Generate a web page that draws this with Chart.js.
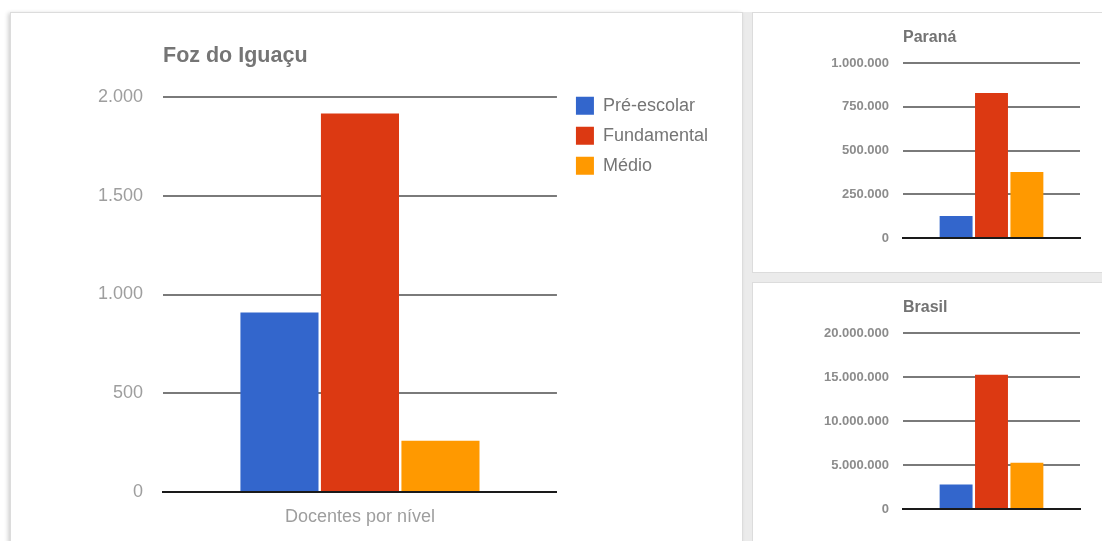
<!DOCTYPE html>
<html lang="pt-BR">
<head>
<meta charset="utf-8">
<title>Docentes por nível</title>
<script src="https://cdn.jsdelivr.net/npm/chart.js@4.4.1/dist/chart.umd.min.js"></script>
<style>
  body { margin: 0; width: 1102px; height: 541px; overflow: hidden; background: #fff; position: relative; }
  .gutter { position: absolute; left: 742px; top: 12px; width: 360px; height: 529px; background: #ebebeb; }
  .card { position: absolute; background: #fff; border: 1px solid #dcdcdc; box-sizing: border-box; }
  #card-foz { left: 10px; top: 12px; width: 733px; height: 540px; box-shadow: -2px 1px 4px rgba(0,0,0,0.18); }
  #card-pr { left: 752px; top: 12px; width: 360px; height: 261px; }
  #card-br { left: 752px; top: 282px; width: 360px; height: 270px; }
  canvas { position: absolute; }
  #fozChart { left: 10px; top: 12px; }
  #prChart { left: 752px; top: 12px; }
  #brChart { left: 752px; top: 282px; }
</style>
</head>
<body>
<div class="gutter"></div>
<div class="card" id="card-foz"></div>
<div class="card" id="card-pr"></div>
<div class="card" id="card-br"></div>
<canvas id="fozChart" width="732" height="529"></canvas>
<canvas id="prChart" width="350" height="260"></canvas>
<canvas id="brChart" width="350" height="259"></canvas>

<script>
// data
const categories = ['Docentes por nível'];
const seriesNames = ['Pré-escolar', 'Fundamental', 'Médio'];
const seriesColors = ['#3366cc', '#dc3912', '#ff9900'];

const fozValues = [909, 1916, 259];
const paranaValues = [125500, 829000, 376500];
const brasilValues = [2770000, 15250000, 5250000];

const fozTicks = [0, 500, 1000, 1500, 2000];
const paranaTicks = [0, 250000, 500000, 750000, 1000000];
const brasilTicks = [0, 5000000, 10000000, 15000000, 20000000];

const FONT = "'Liberation Sans', Arial, sans-serif";
const GRID = '#7a7a7a';

// 1.000.000 style
const fmt = v => String(v).replace(/\B(?=(\d{3})+(?!\d))/g, '.');

function datasets(values, bp, cp) {
  return seriesNames.map((name, i) => ({
    label: name,
    data: [values[i]],
    backgroundColor: seriesColors[i],
    borderWidth: 0,
    barPercentage: bp,
    categoryPercentage: cp
  }));
}

function yScale(ticks, font, color, padding, width) {
  return {
    min: ticks[0],
    max: ticks[ticks.length - 1],
    ticks: { stepSize: ticks[1] - ticks[0], color, font, padding, callback: fmt },
    grid: { color: GRID, lineWidth: 2, drawTicks: false },
    border: { display: false },
    afterFit: s => { s.width = width; }
  };
}

// big one
new Chart(document.getElementById('fozChart'), {
  type: 'bar',
  data: { labels: categories, datasets: datasets(fozValues, 0.97, 0.613) },
  options: {
    responsive: false,
    animation: false,
    layout: { padding: { top: 11, left: 0, right: 24, bottom: 7.4 } },
    plugins: {
      title: {
        display: true, text: 'Foz do Iguaçu', align: 'start', fullSize: false,
        color: '#757575', font: { family: FONT, size: 21.5, weight: 'bold' },
        padding: { top: 19.9, bottom: 28.3 }
      },
      legend: {
        position: 'right', align: 'start', maxWidth: 220,
        title: { display: true, text: '', font: { size: 10 }, padding: { top: 0, bottom: 49.7 } },
        labels: { boxWidth: 18, boxHeight: 18, padding: 12, color: '#757575', font: { family: FONT, size: 18 } }
      },
      tooltip: { enabled: false }
    },
    scales: {
      x: {
        grid: { display: false },
        border: { display: true, color: '#1a1a1a', width: 2 },
        ticks: { color: '#9e9e9e', font: { family: FONT, size: 18 }, padding: 6 }
      },
      y: yScale(fozTicks, { family: FONT, size: 18 }, '#9e9e9e', 20, 153),
      // spacer between plot and legend
      gap: {
        type: 'linear', position: 'right', display: true,
        grid: { display: false }, border: { display: false }, ticks: { display: false },
        afterFit: s => { s.width = 7; }
      }
    }
  }
});

// small ones
function smallChart(id, title, values, ticks, bottom) {
  return new Chart(document.getElementById(id), {
    type: 'bar',
    data: { labels: categories, datasets: datasets(values, 0.93, 0.60) },
    options: {
      responsive: false,
      animation: false,
      layout: { padding: { top: 6, left: 0, right: 22, bottom } },
      plugins: {
        title: {
          display: true, text: title, align: 'start', fullSize: false,
          color: '#737373', font: { family: FONT, size: 16, weight: 'bold' },
          padding: { top: 9.9, bottom: 15.9 }
        },
        legend: { display: false },
        tooltip: { enabled: false }
      },
      scales: {
        x: {
          grid: { display: false },
          border: { display: true, color: '#1a1a1a', width: 2 },
          ticks: { display: false }
        },
        y: yScale(ticks, { family: FONT, size: 13, weight: 'bold' }, '#8c8c8c', 14, 151)
      }
    }
  });
}

smallChart('prChart', 'Paraná', paranaValues, paranaTicks, 26);
smallChart('brChart', 'Brasil', brasilValues, brasilTicks, 24);
</script>
</body>
</html>
